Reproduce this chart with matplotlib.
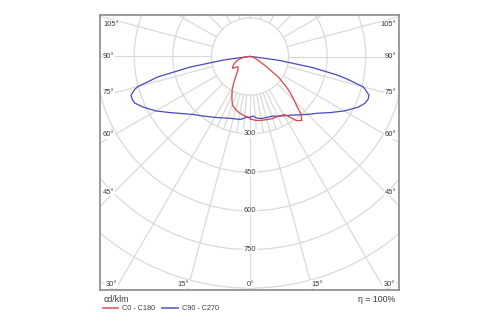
import numpy as np
import matplotlib
matplotlib.use("Agg")
import matplotlib.pyplot as plt
from matplotlib.patches import Circle

# Luminous intensity distribution (cd/klm) versus gamma angle (deg, 0 = nadir)
gamma_c0 = [0, 5, 10, 15, 20, 22, 26, 30, 32, 34, 36, 39, 41.5, 43.5, 45, 48, 50, 54, 59, 64, 70, 78, 90]
i_c0 = [243, 249, 252, 254, 257, 256, 258, 261, 270, 289, 308, 320, 299, 263, 245, 210, 185, 137, 68, 37, 22, 13, 0]

gamma_c180 = [0, 5, 10, 15, 20, 23, 26, 28.6, 32, 35, 38, 42, 46, 50, 53, 56, 60, 65, 70, 76, 82, 90]
i_c180 = [240, 232, 224, 214, 200, 180, 160, 144, 118, 98, 84, 70, 64, 62, 70, 82, 77, 68, 58, 45, 25, 0]

gamma_c90 = [0, 3, 6, 10, 15, 20, 25, 30, 35, 40, 45, 50, 55, 60, 65, 68, 70, 72, 74, 75, 77, 78, 80, 82.5, 85, 87.5, 90]
i_c90 = [236, 232, 240, 245, 246, 247, 256, 266, 278, 296, 318, 343, 380, 423, 465, 483, 488, 486, 466, 455, 385, 347, 245, 112, 15, 3, 0]

gamma_c270 = [0, 2, 5, 8, 10, 15, 20, 25, 30, 35, 40, 45, 50, 55, 60, 65, 68, 70, 72, 74, 75, 77.5, 80, 82.5, 85, 87.5, 90]
i_c270 = [238, 235, 240, 246, 248, 250, 255, 263, 273, 285, 300, 318, 345, 380, 423, 462, 483, 487, 486, 467, 450, 367, 236, 100, 15, 3, 0]

ring_values = [150, 300, 450, 600, 750, 900, 1050]
ring_labels = ["300", "450", "600", "750"]
side_angles = ["105°", "90°", "75°", "60°", "45°"]
bottom_angles = ["30°", "15°", "0°", "15°", "30°"]
legend_unit = "cd/klm"
legend_c0 = "C0 - C180"
legend_c90 = "C90 - C270"
efficiency = "η = 100%"

RED = "#d9454a"
BLUE = "#4a48c0"
GRID = "#dadada"
TEXT = "#3a3a3a"

W, H = 500, 325
fig = plt.figure(figsize=(W / 100, H / 100), dpi=100)
plt.rcParams["font.family"] = ["Liberation Sans", "DejaVu Sans"]

# plotting frame in pixels
fx0, fx1, fy0, fy1 = 100, 399, 15, 290
cx, cy = 250, 56.5
u = 150 / 38.6  # cd/klm per pixel

ax = fig.add_axes([fx0 / W, 1 - fy1 / H, (fx1 - fx0) / W, (fy1 - fy0) / H])
ax.set_xlim((fx0 - cx) * u, (fx1 - cx) * u)
ax.set_ylim(-(fy1 - cy) * u, (cy - fy0) * u)
ax.set_xticks([])
ax.set_yticks([])
for s in ax.spines.values():
    s.set_color("#8a8a8a")
    s.set_linewidth(1.2)

# concentric rings
for r in ring_values:
    ax.add_patch(Circle((0, 0), r, fill=False, ec=GRID, lw=0.9, zorder=1))

# radial lines: every 15 deg outside the first ring, finer ones in the lower inner band
big = 3000
for a in np.arange(0, 360, 15):
    t = np.radians(a)
    ax.plot([150 * np.sin(t), big * np.sin(t)], [-150 * np.cos(t), -big * np.cos(t)],
            color=GRID, lw=0.9, zorder=1)
for a in np.arange(-30, 31, 5):
    if a % 15 == 0:
        continue
    t = np.radians(a)
    ax.plot([150 * np.sin(t), 300 * np.sin(t)], [-150 * np.cos(t), -300 * np.cos(t)],
            color=GRID, lw=0.9, zorder=1)


def curve(g_right, i_right, g_left, i_left):
    gr = np.radians(np.asarray(g_right, float))
    gl = np.radians(np.asarray(g_left, float))
    ir = np.asarray(i_right, float)
    il = np.asarray(i_left, float)
    xr, yr = ir * np.sin(gr), -ir * np.cos(gr)
    xl, yl = -il * np.sin(gl), -il * np.cos(gl)
    x = np.concatenate([xl[::-1], xr])
    y = np.concatenate([yl[::-1], yr])
    return x, y


xb, yb = curve(gamma_c90, i_c90, gamma_c270, i_c270)
ax.plot(xb, yb, color=BLUE, lw=0.9, zorder=3)
xr_, yr_ = curve(gamma_c0, i_c0, gamma_c180, i_c180)
ax.plot(xr_, yr_, color=RED, lw=0.9, zorder=4)

box = dict(facecolor="white", edgecolor="none", pad=0.6)
fs = 5.4

# intensity scale labels on the nadir axis
for lab in ring_labels:
    ax.text(0, -float(lab), lab, ha="center", va="center", fontsize=fs, color=TEXT,
            bbox=box, zorder=5)

# angle labels on both sides
side_py = [24, 57, 93, 135, 192]
for lab, py in zip(side_angles, side_py):
    yy = (fy1 - py) / (fy1 - fy0)
    ax.text(0.01, yy, lab, transform=ax.transAxes, ha="left", va="center",
            fontsize=fs, color=TEXT, bbox=box, zorder=5)
    ax.text(0.99, yy, lab, transform=ax.transAxes, ha="right", va="center",
            fontsize=fs, color=TEXT, bbox=box, zorder=5)

bottom_px = [111, 183, 250, 317, 389]
for lab, px in zip(bottom_angles, bottom_px):
    xx = (px - fx0) / (fx1 - fx0)
    yy = (fy1 - 284) / (fy1 - fy0)
    ax.text(xx, yy, lab, transform=ax.transAxes, ha="center", va="center",
            fontsize=fs, color=TEXT, bbox=box, zorder=5)

# legend below the frame
fig.text(104 / W, 1 - 300 / H, legend_unit, ha="left", va="center", fontsize=6.3, color=TEXT)
fig.text(395 / W, 1 - 300 / H, efficiency, ha="right", va="center", fontsize=6.3, color=TEXT)
ly = 1 - 308 / H
fig.add_artist(plt.Line2D([103 / W, 118 / W], [ly, ly], color=RED, lw=1.3, alpha=0.8))
fig.text(122 / W, ly, legend_c0, ha="left", va="center", fontsize=5.2, color=TEXT)
fig.add_artist(plt.Line2D([162 / W, 178 / W], [ly, ly], color=BLUE, lw=1.3, alpha=0.8))
fig.text(182 / W, ly, legend_c90, ha="left", va="center", fontsize=5.2, color=TEXT)

fig.savefig("out.png", dpi=100, facecolor="white")
